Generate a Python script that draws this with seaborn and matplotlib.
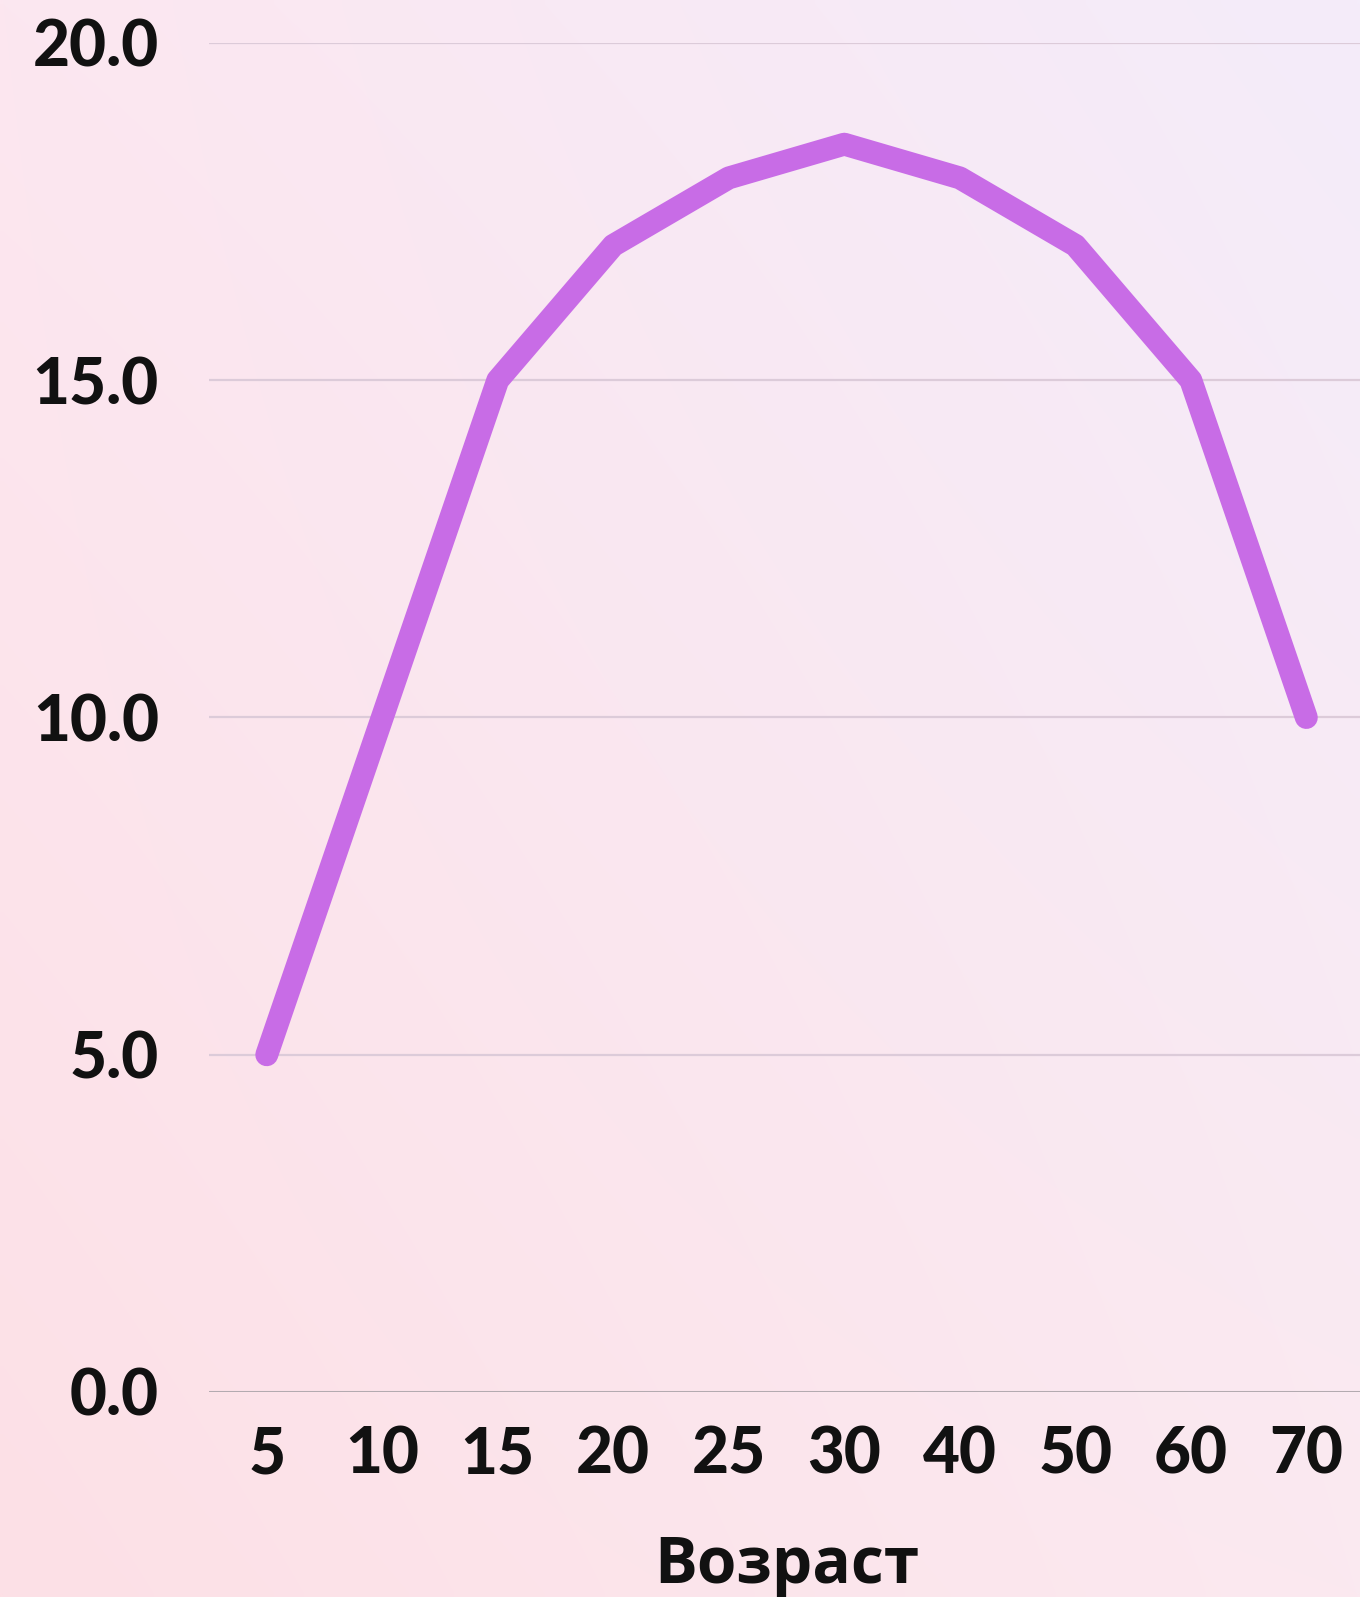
import numpy as np
import pandas as pd
import matplotlib
matplotlib.use("Agg")
import matplotlib.pyplot as plt
import seaborn as sns

# Age groups and values
ages = ["5", "10", "15", "20", "25", "30", "40", "50", "60", "70"]
values = [5, 10, 15, 17, 18, 18.5, 18, 17, 15, 10]
y_ticks = [0, 5, 10, 15, 20]
x_label = "Возраст"

line_color = "#c86ce6"
grid_color = "#dccbd9"
base_color = "#b3aab0"

sns.set_theme(style="white")
plt.rcParams["font.family"] = ["Lato", "DejaVu Sans"]

W, H, DPI = 1360, 1597, 100
fig = plt.figure(figsize=(W / DPI, H / DPI), dpi=DPI)

# soft pink-to-lavender background wash
bg = fig.add_axes([0, 0, 1, 1], zorder=-10)
bg.set_axis_off()
corners = {
    "tl": np.array([252, 231, 240]),
    "tr": np.array([244, 236, 250]),
    "bl": np.array([253, 224, 230]),
    "br": np.array([251, 233, 240]),
}
u = np.linspace(0, 1, 200)[None, :, None]
v = np.linspace(0, 1, 200)[:, None, None]
img = ((1 - u) * (1 - v) * corners["tl"] + u * (1 - v) * corners["tr"]
       + (1 - u) * v * corners["bl"] + u * v * corners["br"]) / 255.0
bg.imshow(img, aspect="auto", extent=[0, 1, 0, 1], interpolation="bilinear")

ax = fig.add_axes([209 / W, 1 - 1392 / H, 1 - 209 / W + 0.003, (1392 - 43) / H])
ax.patch.set_alpha(0)

df = pd.DataFrame({"age": ages, "value": values})
for yv in y_ticks:
    ax.axhline(yv, color=base_color if yv == 0 else grid_color,
               lw=2.2 if yv == 0 else 1.6, zorder=0)

sns.lineplot(data=df, x="age", y="value", ax=ax, color=line_color,
             linewidth=16.5, sort=False, clip_on=False,
             solid_capstyle="round", solid_joinstyle="round")

ax.set_ylim(0, 20)
ax.set_xlim(-0.5, 9.5)
ax.set_yticks(y_ticks)
ax.set_yticklabels([f"{t:.1f}" for t in y_ticks])
for s in ax.spines.values():
    s.set_visible(False)
ax.tick_params(axis="y", length=0, pad=36, labelsize=46, labelcolor="#111111")
ax.tick_params(axis="x", length=0, pad=24, labelsize=46, labelcolor="#111111")
for lab in ax.get_xticklabels() + ax.get_yticklabels():
    lab.set_fontweight("black")
ax.set_ylabel("")
ax.set_xlabel(x_label, fontsize=46, fontweight="bold", color="#111111",
              family=["Open Sans", "DejaVu Sans"], labelpad=36)

fig.savefig("out.png", dpi=DPI)
